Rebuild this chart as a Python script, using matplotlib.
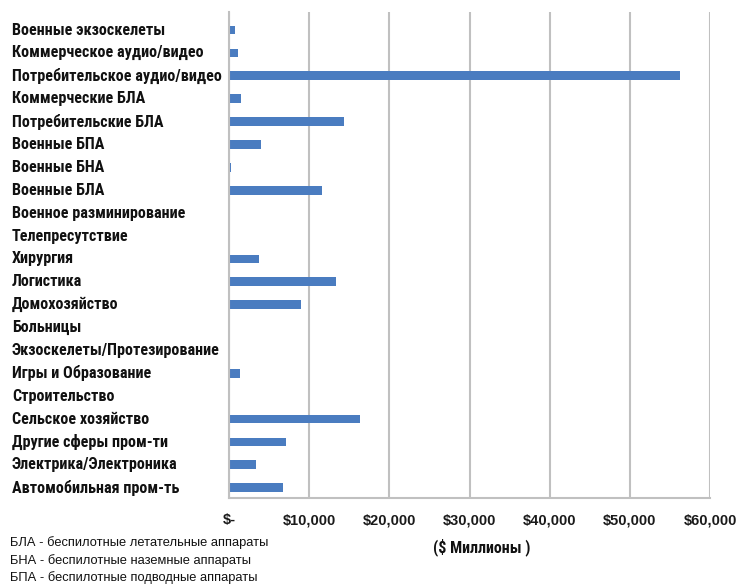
import matplotlib
matplotlib.use('Agg')
import matplotlib.pyplot as plt
from matplotlib import transforms

categories = [
    'Военные экзоскелеты',
    'Коммерческое аудио/видео',
    'Потребительское аудио/видео',
    'Коммерческие БЛА',
    'Потребительские БЛА',
    'Военные БПА',
    'Военные БНА',
    'Военные БЛА',
    'Военное разминирование',
    'Телепресутствие',
    'Хирургия',
    'Логистика',
    'Домохозяйство',
    'Больницы',
    'Экзоскелеты/Протезирование',
    'Игры и Образование',
    'Строительство',
    'Сельское хозяйство',
    'Другие сферы пром-ти',
    'Электрика/Электроника',
    'Автомобильная пром-ть',
]
values = [700, 1100, 56250, 1500, 14400, 4000, 300, 11600, 0, 100,
          3700, 13300, 9000, 0, 0, 1400, 100, 16300, 7050, 3400, 6700]
xticks = [0, 10000, 20000, 30000, 40000, 50000, 60000]
xticklabels = ['$-', '$10,000', '$20,000', '$30,000', '$40,000', '$50,000', '$60,000']
notes = [
    'БЛА - беспилотные летательные аппараты',
    'БНА - беспилотные наземные аппараты',
    'БПА - беспилотные подводные аппараты',
]

narrow = ['Roboto Condensed', 'Fira Sans Condensed', 'Liberation Sans Narrow', 'DejaVu Sans']
arial = ['Liberation Sans', 'DejaVu Sans']

fig = plt.figure(figsize=(7.42, 5.85), dpi=100)
ax = fig.add_axes([229 / 742, 1 - 498 / 585, 481 / 742, 486 / 585])

ypos = list(range(len(categories)))
ax.barh(ypos, values, height=0.38, color='#4a7cc0')
ax.set_xlim(0, 60000)
ax.set_ylim(20.45, -0.79)

ax.set_xticks(xticks)
ax.set_xticklabels(xticklabels, fontsize=10.5, fontweight='bold', family=arial, color='#1a1a1a')
ax.tick_params(axis='x', length=0, pad=11)
ax.set_yticks([])
ax.grid(axis='x', color='#c0c0c0', linewidth=1.5)
ax.set_axisbelow(True)
for s in ['top', 'right']:
    ax.spines[s].set_visible(False)
for s in ['left', 'bottom']:
    ax.spines[s].set_color('#c0c0c0')
    ax.spines[s].set_linewidth(1.5)

# category names sit at the left edge of the figure
tr = transforms.blended_transform_factory(fig.transFigure, ax.transData)
for y, name in zip(ypos, categories):
    ax.text(12 / 742, y, name, transform=tr, ha='left', va='center',
            fontsize=11.6, fontweight='bold', family=narrow, color='#111111')

fig.text(433 / 742, 1 - 547 / 585, '($ Миллионы )', ha='left', va='center',
         fontsize=11.5, fontweight='bold', family=narrow, color='#111111')

for i, line in enumerate(notes):
    fig.text(10 / 742, 1 - (543 + i * 17.5) / 585, line, ha='left', va='center',
             fontsize=9.3, family=arial, color='#111111')

fig.savefig('out.png', dpi=100, facecolor='white')
